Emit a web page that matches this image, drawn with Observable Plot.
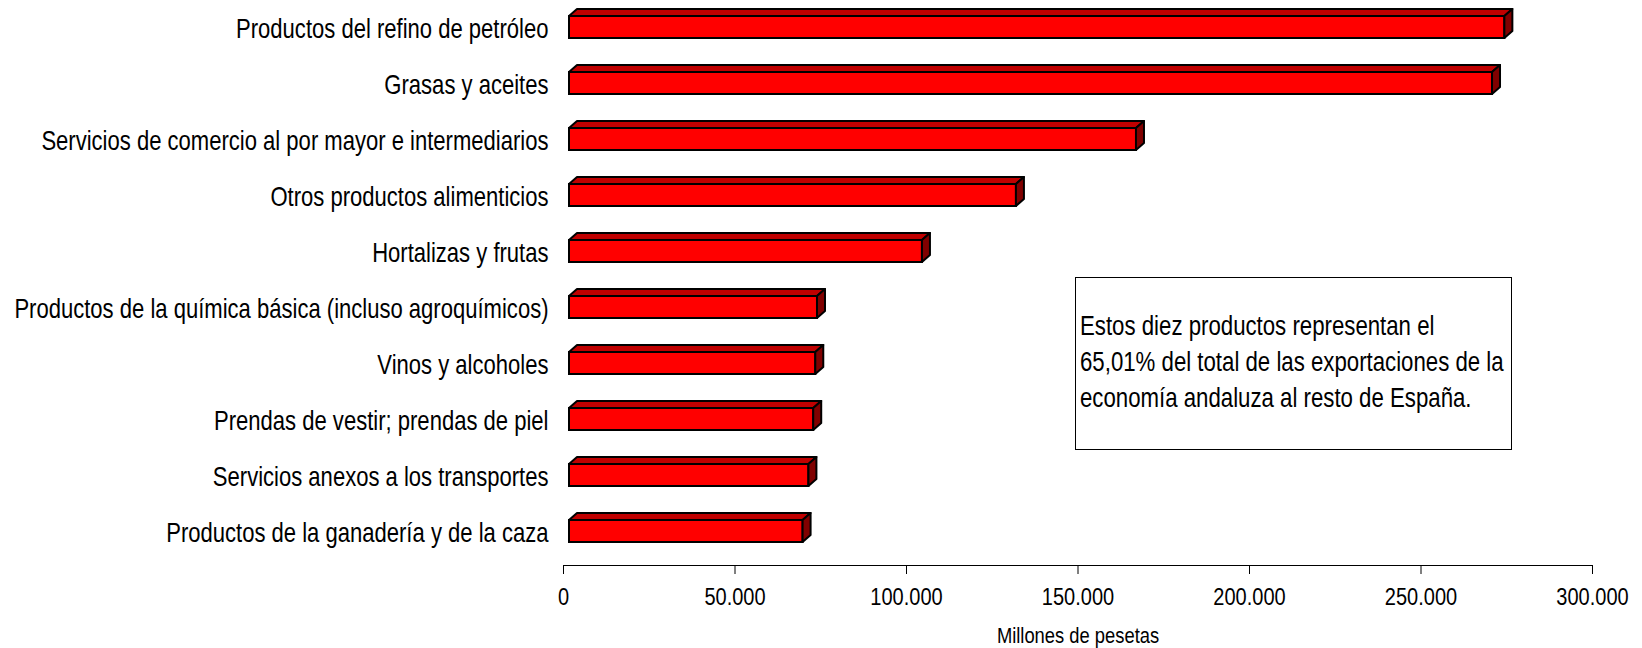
<!DOCTYPE html>
<html>
<head>
<meta charset="utf-8">
<script src="https://cdn.jsdelivr.net/npm/d3@7"></script>
<script src="https://cdn.jsdelivr.net/npm/@observablehq/plot@0.6"></script>
<style>
  html, body { margin: 0; padding: 0; background: #fff; }
  #wrap { position: relative; width: 1642px; height: 648px; overflow: hidden; }
  #note { position: absolute; left: 1075px; top: 277px; width: 437px; height: 173px;
          border: 1.5px solid #000; background: #fff; box-sizing: border-box;
          padding: 30px 0 0 4px; color: #000; white-space: nowrap; }
  #note .txt { transform-origin: 0 0; line-height: 36px; }
</style>
</head>
<body>
<div id="wrap"></div>
<script>
const categories = [
  "Productos del refino de petróleo",
  "Grasas y aceites",
  "Servicios de comercio al por mayor e intermediarios",
  "Otros productos alimenticios",
  "Hortalizas y frutas",
  "Productos de la química básica (incluso agroquímicos)",
  "Vinos y alcoholes",
  "Prendas de vestir; prendas de piel",
  "Servicios anexos a los transportes",
  "Productos de la ganadería y de la caza"
];
const values = [272700, 269100, 165300, 130300, 102900, 72300, 71800, 71200, 69800, 68100];
const xTicks = [0, 50000, 100000, 150000, 200000, 250000, 300000];
const xTitle = "Millones de pesetas";
const noteLines = [
  "Estos diez productos representan el",
  "65,01% del total de las exportaciones de la",
  "economía andaluza al resto de España."
];

function hasFont(name) {
  const c = document.createElement("canvas").getContext("2d");
  const s = "Productos del refino de petróleo 0123";
  c.font = "40px monospace";
  const a = c.measureText(s).width;
  c.font = `40px "${name}", monospace`;
  const b = c.measureText(s).width;
  return Math.abs(a - b) > 0.5;
}
const narrow = hasFont("Liberation Sans Narrow");
const FONT = narrow ? '"Liberation Sans Narrow", sans-serif' : '"Liberation Sans", Arial, sans-serif';
const SX = narrow ? 1 : 0.82;   // horizontal condensing when no narrow face exists
const S = {label: 26.9, tick: 24.4, title: 22.4, note: 27.1};

const data = categories.map((cat, i) => ({cat, value: values[i]}));
const fmt = d => d3.format(",")(d).replace(/,/g, ".");
const D = 8;

function svgEl(tag, attrs) {
  const e = document.createElementNS("http://www.w3.org/2000/svg", tag);
  for (const [a, v] of Object.entries(attrs)) e.setAttribute(a, v);
  return e;
}

const chart = Plot.plot({
  width: 1642,
  height: 648,
  marginLeft: 563,
  marginRight: 50,
  marginTop: 0,
  marginBottom: 83,
  style: {background: "#fff", color: "#000", fontFamily: FONT},
  x: {domain: [0, 300000]},
  y: {domain: categories, range: [-2.6, 560.2], padding: 0},
  marks: [
    Plot.frame({anchor: "bottom", stroke: "#000", strokeWidth: 1}),
    Plot.barX(data, {
      x: "value", y: "cat",
      fill: "#ff0000", stroke: "#000", strokeWidth: 2,
      insetTop: 17, insetBottom: 17, dx: 6,
      render(index, scales, vals, dims, ctx, next) {
        const g = next(index, scales, vals, dims, ctx);
        for (const r of Array.from(g.querySelectorAll("rect"))) {
          const x = +r.getAttribute("x"), y = +r.getAttribute("y");
          const w = +r.getAttribute("width"), h = +r.getAttribute("height");
          const top = svgEl("polygon", {
            points: `${x},${y} ${x + w},${y} ${x + w + D},${y - D + 1} ${x + D},${y - D + 1}`,
            fill: "#c00000", stroke: "#000", "stroke-width": 2, "stroke-linejoin": "round"
          });
          const side = svgEl("polygon", {
            points: `${x + w},${y} ${x + w + D},${y - D + 1} ${x + w + D},${y + h - D + 1} ${x + w},${y + h}`,
            fill: "#800000", stroke: "#000", "stroke-width": 2, "stroke-linejoin": "round"
          });
          r.parentNode.appendChild(top);
          r.parentNode.appendChild(side);
        }
        return g;
      }
    }),
    Plot.axisY({tickSize: 0, tickPadding: 15, dy: 2, fontSize: S.label, label: null, fill: "#000"}),
    Plot.axisX({ticks: xTicks, tickSize: 9, tickPadding: 13, tickFormat: fmt, fontSize: S.tick, label: null, stroke: "#000", fill: "#000"}),
    Plot.text([xTitle], {frameAnchor: "bottom", lineAnchor: "middle", dy: 70, fontSize: S.title, fill: "#000"})
  ]
});

// condense all texts horizontally around their anchor points
if (SX !== 1) {
  for (const t of Array.from(chart.querySelectorAll("text"))) {
    const tr = t.getAttribute("transform") || "";
    t.setAttribute("transform", `${tr} scale(${SX},1)`.trim());
  }
}

const wrap = document.getElementById("wrap");
wrap.appendChild(chart);
const note = document.createElement("div");
note.id = "note";
const txt = document.createElement("div");
txt.className = "txt";
txt.style.fontFamily = FONT;
txt.style.fontSize = S.note + "px";
txt.style.transform = `scale(${SX},1)`;
txt.innerHTML = noteLines.map(l => `<div>${l}</div>`).join("");
note.appendChild(txt);
wrap.appendChild(note);
</script>
</body>
</html>
